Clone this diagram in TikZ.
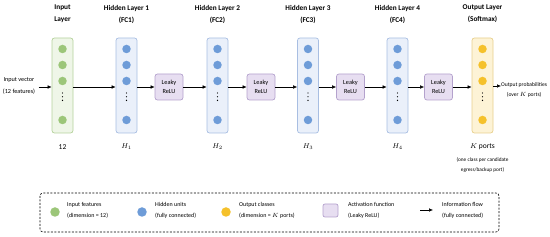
\documentclass[tikz,border=0pt]{standalone}
\usepackage{fontspec}
\setmainfont{Carlito}
\usetikzlibrary{arrows.meta}
\definecolor{gedge}{HTML}{B5D29C}
\definecolor{gfill}{HTML}{EFF6E8}
\definecolor{gdot}{HTML}{9CC679}
\definecolor{bedge}{HTML}{A8BEE2}
\definecolor{bfill}{HTML}{EAF0FA}
\definecolor{bdot}{HTML}{6E9CD8}
\definecolor{yedge}{HTML}{E8D08E}
\definecolor{yfill}{HTML}{FDF3D6}
\definecolor{ydot}{HTML}{F5C12B}
\definecolor{pedge}{HTML}{B4A2CD}
\definecolor{pfill}{HTML}{E7DEF1}
\begin{document}
\begin{tikzpicture}[x=1pt,y=-1pt,
  layerbox/.style={rounded corners=2.5pt, minimum width=21pt, minimum height=95pt, line width=0.7pt, inner sep=0},
  unit/.style={circle, minimum size=8.5pt, inner sep=0},
  relubox/.style={draw=pedge, fill=pfill, line width=0.7pt, rounded corners=2.5pt, minimum width=28pt, minimum height=26pt, align=center, inner sep=0, font=\fontsize{6.3}{9}\selectfont},
  flow/.style={-{Latex[length=4pt,width=3.6pt]}, line width=0.55pt},
  ttl/.style={align=center, font=\fontsize{7.3}{12}\selectfont\bfseries},
  lab/.style={font=\fontsize{7.5}{8}\selectfont},
  small/.style={align=center, font=\fontsize{6}{11}\selectfont},
  leg/.style={align=left, anchor=west, font=\fontsize{6}{11}\selectfont, inner sep=0}]
\useasboundingbox (0,0) rectangle (550,237);
% layers
\foreach \n/\x/\ce/\cf/\cd in {in/62.5/gedge/gfill/gdot, h1/126.5/bedge/bfill/bdot, h2/217.5/bedge/bfill/bdot, h3/308/bedge/bfill/bdot, h4/397.5/bedge/bfill/bdot, out/482.5/yedge/yfill/ydot}{
  \node[layerbox, draw=\ce, fill=\cf] (\n) at (\x,85.5) {};
  \node[unit, fill=\cd] (\n-1) at (\x,49) {};
  \node[unit, fill=\cd] (\n-2) at (\x,65) {};
  \node[unit, fill=\cd] (\n-3) at (\x,81) {};
  \node[unit, fill=\cd] (\n-4) at (\x,120) {};
  \foreach \yy in {93,96.7,100.4} \fill (\x,\yy) circle (0.65pt);
}
% titles
\node[ttl] (t0) at (62.5,14) {Input\\Layer};
\node[ttl] (t1) at (126.5,14) {Hidden Layer 1\\(FC1)};
\node[ttl] (t2) at (217.5,14) {Hidden Layer 2\\(FC2)};
\node[ttl] (t3) at (308,14) {Hidden Layer 3\\(FC3)};
\node[ttl] (t4) at (397.5,14) {Hidden Layer 4\\(FC4)};
\node[ttl] (t5) at (482.5,14) {Output Layer\\(Softmax)};
% relu boxes
\node[relubox] (r1) at (169,87) {Leaky\\ReLU};
\node[relubox] (r2) at (261,87) {Leaky\\ReLU};
\node[relubox] (r3) at (350.5,87) {Leaky\\ReLU};
\node[relubox] (r4) at (438.5,87) {Leaky\\ReLU};
% input / output text
\node[small, font=\fontsize{6.2}{12}\selectfont] (invec) at (19,85.5) {Input vector\\(12 features)};
\node[small, anchor=west, inner sep=0, font=\fontsize{5.6}{10}\selectfont] (outtxt) at (501,90.5) {Output probabilities\\(over $K$ ports)};
% arrows
\draw[flow] (invec.east |- r1.center) -- (in.west |- r1.center);
\draw[flow] (in.east |- r1.center) -- (h1.west |- r1.center);
\draw[flow] (h1.east |- r1.center) -- (r1.west);
\draw[flow] (r1.east) -- (h2.west |- r1.center);
\draw[flow] (h2.east |- r2.center) -- (r2.west);
\draw[flow] (r2.east) -- (h3.west |- r2.center);
\draw[flow] (h3.east |- r3.center) -- (r3.west);
\draw[flow] (r3.east) -- (h4.west |- r3.center);
\draw[flow] (h4.east |- r4.center) -- (r4.west);
\draw[flow] (r4.east) -- (out.west |- r4.center);
\coordinate (oend) at (outtxt.west |- 0,86);
\draw[flow] (out.east |- oend) -- (oend);
% bottom labels
\node[lab] (b0) at (62.5,147) {12};
\node[lab] (b1) at (126.5,147) {$H_1$};
\node[lab] (b2) at (217.5,147) {$H_2$};
\node[lab] (b3) at (308,147) {$H_3$};
\node[lab] (b4) at (397.5,147) {$H_4$};
\node[lab] (b5) at (482.5,147) {$K$ ports};
\node[small, font=\fontsize{5.3}{10}\selectfont] (b6) at (482.5,165.5) {(one class per candidate\\egress/backup port)};
% legend
\draw[dashed, line width=0.6pt, rounded corners=3pt, dash pattern=on 2pt off 1.5pt] (40,193) rectangle (499,232);
\node[unit, fill=gdot, minimum size=9.5pt] (lg) at (55,212) {};
\node[leg] (lgt) at (67,210.5) {Input features\\(dimension = 12)};
\node[unit, fill=bdot, minimum size=9.5pt] (lb) at (142,212) {};
\node[leg] (lbt) at (155,210.5) {Hidden units\\(fully connected)};
\node[unit, fill=ydot, minimum size=9.5pt] (ly) at (226,212) {};
\node[leg] (lyt) at (239,210.5) {Output classes\\(dimension = $K$ ports)};
\node[draw=pedge, fill=pfill, line width=0.7pt, rounded corners=2pt, minimum width=15pt, minimum height=13pt, inner sep=0] (lp) at (330.5,210.5) {};
\node[leg] (lpt) at (348,210.5) {Activation function\\(Leaky ReLU)};
\coordinate (la1) at (420,210);
\coordinate (la2) at (433,210);
\draw[flow] (la1) -- (la2);
\node[leg] (lat) at (442,210.5) {Information flow\\(fully connected)};
\end{tikzpicture}
\end{document}
